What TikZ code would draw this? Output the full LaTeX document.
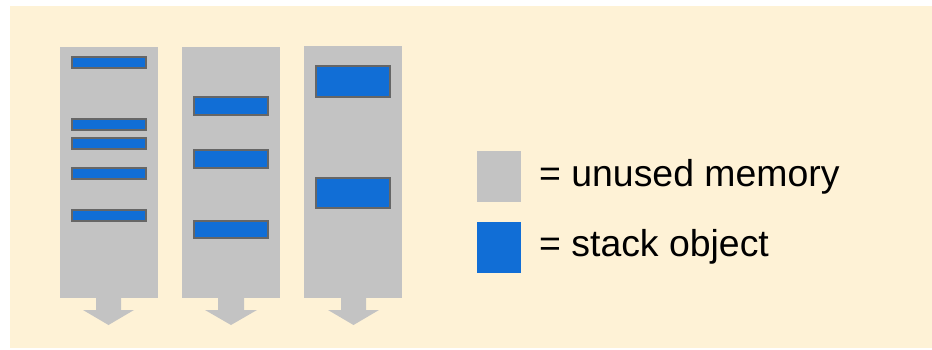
\documentclass[tikz,border=0pt]{standalone}
\usepackage{fontspec}
\setmainfont{Liberation Sans}
\definecolor{cream}{HTML}{FEF2D6}
\definecolor{memgray}{HTML}{C3C3C3}
\definecolor{objblue}{HTML}{116ED6}
\definecolor{edgegray}{HTML}{666666}
\tikzset{
  x=1pt, y=-1pt,
  col/.style={fill=memgray, draw=none},
  obj/.style={fill=objblue, draw=edgegray, line width=1.6pt},
  legsq/.style={draw=none, inner sep=0pt, outer sep=0pt, minimum width=44pt, minimum height=51pt, anchor=north west},
  legtext/.style={anchor=base west, inner sep=0pt, font=\fontsize{37.4}{44}\selectfont},
  downarrow/.style={fill=memgray, draw=none}
}
\begin{document}
\begin{tikzpicture}
\useasboundingbox (0,0) rectangle (932,350);
\fill[cream] (10,6) rectangle (932,348);

% columns
\fill[col] (60,47) rectangle (158,298);
\fill[col] (182,47) rectangle (280,298);
\fill[col] (304,46) rectangle (402,298);

% down arrows
\fill[downarrow] (96,297) -- (96,310) -- (83,310) -- (108.5,325) -- (134,310) -- (121,310) -- (121,297) -- cycle;
\fill[downarrow] (218,297) -- (218,310) -- (205,310) -- (231,325) -- (257,310) -- (244,310) -- (244,297) -- cycle;
\fill[downarrow] (341,297) -- (341,310) -- (328,310) -- (353.5,325) -- (379,310) -- (366,310) -- (366,297) -- cycle;

% stack objects column 1
\draw[obj] (71.8,56.8) rectangle (146.2,68.2);
\draw[obj] (71.8,118.8) rectangle (146.2,130.2);
\draw[obj] (71.8,137.8) rectangle (146.2,149.2);
\draw[obj] (71.8,167.8) rectangle (146.2,179.2);
\draw[obj] (71.8,209.8) rectangle (146.2,221.2);

% column 2
\draw[obj] (193.8,96.8) rectangle (268.2,115.2);
\draw[obj] (193.8,149.8) rectangle (268.2,168.2);
\draw[obj] (193.8,220.8) rectangle (268.2,238.2);

% column 3
\draw[obj] (315.8,65.8) rectangle (390.2,97.2);
\draw[obj] (315.8,177.8) rectangle (390.2,208.2);

% legend
\node[legsq, fill=memgray] (lg1) at (477,151) {};
\node[legsq, fill=objblue] (lg2) at (477,222) {};
\node[legtext] (t1) at (539,186.7) {= unused memory};
\node[legtext] (t2) at (539,256.7) {= stack object};
\end{tikzpicture}
\end{document}
